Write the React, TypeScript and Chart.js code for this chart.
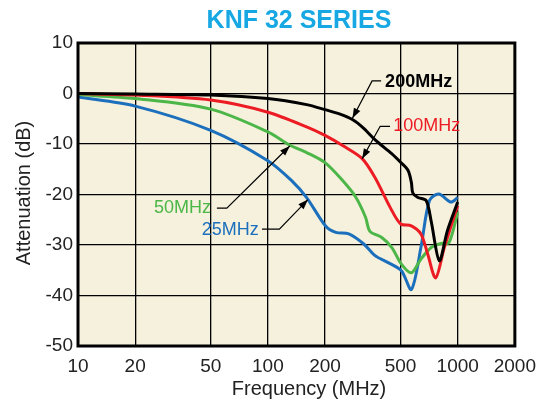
import React, { useEffect, useRef } from "react";
import { Chart, registerables } from "chart.js";

Chart.register(...registerables);

const FONT = "'Liberation Sans', Arial, Helvetica, sans-serif";

// Axis ticks
const xTickValues = [10, 20, 50, 100, 200, 500, 1000, 2000];
const yMin = -50;
const yMax = 10;
const yStep = 10;

// Series: 200MHz (black)
const freq200 = [10, 20, 50, 100, 160, 200, 240, 280, 320, 370, 449, 500, 547, 570, 580, 617, 682, 724, 800, 882, 1000];
const att200 = [0, -0.1, -0.3, -1.0, -2.2, -3.2, -4.1, -5.2, -6.9, -9.3, -11.9, -13.6, -15.2, -17.6, -19.7, -20.6, -21.2, -25.2, -33.1, -27.2, -21.5];

// Series: 100MHz (red)
const freq100 = [10, 20, 50, 100, 160, 200, 250, 314, 366, 440, 500, 570, 640, 695, 765, 850, 1000];
const att100 = [0, -0.3, -1.3, -3.7, -6.6, -8.3, -10.4, -12.9, -16.6, -22.5, -25.8, -26.2, -27.8, -31.8, -36.5, -30.5, -22.2];

// Series: 50MHz (green)
const freq50 = [10, 20, 50, 100, 130, 160, 200, 247, 290, 327, 345, 398, 450, 505, 570, 640, 725, 816, 900, 1000];
const att50 = [-0.2, -1.0, -3.1, -7.6, -10.2, -11.7, -13.7, -17.2, -20.5, -24.5, -27.3, -28.5, -30.5, -33.8, -35.5, -32.8, -30.5, -29.7, -29.5, -23.5];

// Series: 25MHz (blue)
const freq25 = [10, 20, 50, 100, 133, 160, 202, 228, 267, 320, 367, 430, 505, 570, 640, 710, 795, 920, 1000];
const att25 = [-0.7, -2.5, -7.3, -13.3, -17.2, -20.6, -26.3, -27.5, -27.8, -29.8, -32.1, -33.5, -35.1, -38.8, -30.5, -21.2, -19.9, -21.5, -20.6];

// Annotation labels (data coordinates)
const annoText = ["200MHz", "100MHz", "50MHz", "25MHz"];
const annoColor = ["#000000", "#ed1c24", "#4cb748", "#1b6fbd"];
const annoBold = [true, false, false, false];
const annoAlign: CanvasTextAlign[] = ["left", "left", "right", "right"];
const annoTextFreq = [414.6, 457.8, 50.2, 89.5];
const annoTextDb = [2.45, -6.24, -22.5, -26.8];
const annoStartFreq = [395, 440, 53.9, 93.1];
const annoElbowFreq = [354, 390.6, 60.8, 115];
const annoElbowDb = [2.5, -6.5, -22.7, -26.85];
const annoTipFreq = [279, 313.8, 130.5, 162.6];
const annoTipDb = [-4.9, -12.9, -10.4, -21.0];

const toXY = (fs: number[], ds: number[]) => fs.map((f, i) => ({ x: f, y: ds[i] }));

const decorPlugin = {
  id: "decor",
  beforeDraw(chart: any) {
    const { ctx, chartArea: a } = chart;
    ctx.save();
    ctx.fillStyle = "#f5f1dc";
    ctx.fillRect(a.left, a.top, a.right - a.left, a.bottom - a.top);
    ctx.restore();
  },
  afterDatasetsDraw(chart: any) {
    const { ctx, chartArea: a } = chart;
    const xs = chart.scales.x;
    const ys = chart.scales.y;
    ctx.save();
    // border
    ctx.strokeStyle = "#000";
    ctx.lineWidth = 3;
    ctx.strokeRect(a.left, a.top, a.right - a.left, a.bottom - a.top);

    // annotations
    for (let i = 0; i < annoText.length; i++) {
      const sx = xs.getPixelForValue(annoStartFreq[i]);
      const ex = xs.getPixelForValue(annoElbowFreq[i]);
      const ey = ys.getPixelForValue(annoElbowDb[i]);
      const tx = xs.getPixelForValue(annoTipFreq[i]);
      const ty = ys.getPixelForValue(annoTipDb[i]);
      ctx.strokeStyle = "#000";
      ctx.lineWidth = 1.2;
      ctx.beginPath();
      ctx.moveTo(sx, ey);
      ctx.lineTo(ex, ey);
      ctx.lineTo(tx, ty);
      ctx.stroke();
      const ang = Math.atan2(ty - ey, tx - ex);
      const L = 10;
      const W = 3.6;
      ctx.fillStyle = "#000";
      ctx.beginPath();
      ctx.moveTo(tx, ty);
      ctx.lineTo(tx - L * Math.cos(ang) + W * Math.sin(ang), ty - L * Math.sin(ang) - W * Math.cos(ang));
      ctx.lineTo(tx - L * Math.cos(ang) - W * Math.sin(ang), ty - L * Math.sin(ang) + W * Math.cos(ang));
      ctx.closePath();
      ctx.fill();

      ctx.font = `${annoBold[i] ? "bold " : ""}18px ${FONT}`;
      ctx.fillStyle = annoColor[i];
      ctx.textAlign = annoAlign[i];
      ctx.textBaseline = "middle";
      ctx.fillText(annoText[i], xs.getPixelForValue(annoTextFreq[i]), ys.getPixelForValue(annoTextDb[i]) + 1);
    }
    ctx.restore();
  },
  afterDraw(chart: any) {
    const { ctx } = chart;
    ctx.save();
    ctx.fillStyle = "#17a8e3";
    ctx.font = `bold 25px ${FONT}`;
    ctx.textAlign = "center";
    ctx.textBaseline = "middle";
    ctx.fillText("KNF 32 SERIES", 299, 21);

    ctx.fillStyle = "#222";
    ctx.font = `20px ${FONT}`;
    ctx.fillText("Frequency (MHz)", 309, 389);
    ctx.translate(24, 193);
    ctx.rotate(-Math.PI / 2);
    ctx.fillText("Attenuation (dB)", 0, 0);
    ctx.restore();
  },
};

export default function App() {
  const ref = useRef<HTMLCanvasElement | null>(null);
  useEffect(() => {
    if (!ref.current) return;
    const chart = new Chart(ref.current, {
      type: "line",
      data: {
        datasets: [
          { label: "200MHz", data: toXY(freq200, att200), borderColor: "#000000" },
          { label: "100MHz", data: toXY(freq100, att100), borderColor: "#ed1c24" },
          { label: "50MHz", data: toXY(freq50, att50), borderColor: "#4cb748" },
          { label: "25MHz", data: toXY(freq25, att25), borderColor: "#1b6fbd" },
        ],
      },
      options: {
        animation: false,
        responsive: false,
        maintainAspectRatio: false,
        devicePixelRatio: 1,
        layout: { padding: { left: 0, right: 25, top: 43, bottom: 0 } },
        elements: {
          point: { radius: 0 },
          line: { borderWidth: 3, tension: 0.3, fill: false, capBezierPoints: true },
        },
        plugins: { legend: { display: false }, tooltip: { enabled: false }, title: { display: false } },
        scales: {
          x: {
            type: "logarithmic",
            min: 10,
            max: 2000,
            afterBuildTicks: (s: any) => {
              s.ticks = xTickValues.map((v) => ({ value: v }));
            },
            afterFit: (s: any) => {
              s.height = 54;
            },
            ticks: {
              autoSkip: false,
              maxRotation: 0,
              padding: 9,
              color: "#222",
              font: { family: FONT, size: 19 },
              callback: (v: any) => String(v),
            },
            grid: { color: "#000", lineWidth: 1.3, drawTicks: false },
            border: { display: false },
          },
          y: {
            min: yMin,
            max: yMax,
            afterFit: (s: any) => {
              s.width = 78;
            },
            ticks: {
              stepSize: yStep,
              padding: 5,
              color: "#222",
              font: { family: FONT, size: 19 },
            },
            grid: { color: "#000", lineWidth: 1.3, drawTicks: false },
            border: { display: false },
          },
        },
      },
      plugins: [decorPlugin],
    } as any);
    return () => chart.destroy();
  }, []);
  return (
    <div style={{ position: "fixed", left: 0, top: 0, width: 545, height: 400, background: "#fff" }}>
      <canvas ref={ref} width={545} height={400} style={{ width: 545, height: 400 }} />
    </div>
  );
}
